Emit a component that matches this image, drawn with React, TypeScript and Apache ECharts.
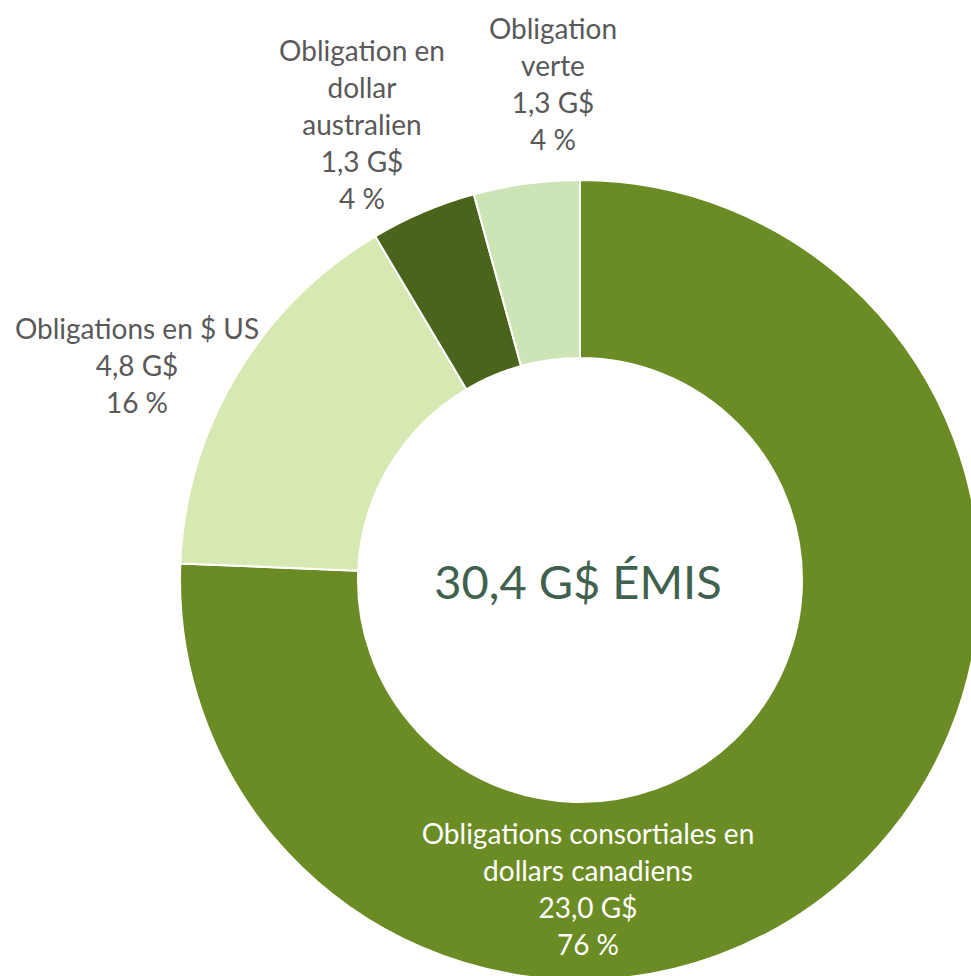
import React, { useEffect, useRef } from "react";
import * as echarts from "echarts";

const categories = [
  "Obligations consortiales en\ndollars canadiens",
  "Obligations en $ US",
  "Obligation en\ndollar\naustralien",
  "Obligation\nverte",
];
const valuesBn = [23.0, 4.8, 1.3, 1.3];
const percents = [76, 16, 4, 4];
const totalLabel = "30,4 G$ ÉMIS";

const colors = ["#6b8c24", "#d7e9b2", "#4b641b", "#cde4b6"];
const labelColors = ["#ffffff", "#595959", "#595959", "#595959"];
// label anchor positions (top-center of each label block)
const labelPos: [number, number][] = [
  [588, 814],
  [137, 309],
  [362, 31],
  [553, 9],
];

const FONT = "Lato, 'Open Sans', sans-serif";

export default function App() {
  const ref = useRef<HTMLDivElement>(null);
  useEffect(() => {
    if (!ref.current) return;
    const chart = echarts.init(ref.current, undefined, { renderer: "svg" });
    const fmt = (v: number) => v.toFixed(1).replace(".", ",") + " G$";
    chart.setOption({
      animation: false,
      backgroundColor: "#ffffff",
      series: [
        {
          type: "pie",
          center: [580, 580],
          radius: [222, 400],
          startAngle: 90,
          clockwise: true,
          avoidLabelOverlap: false,
          itemStyle: { borderColor: "#ffffff", borderWidth: 2 },
          label: {
            show: true,
            position: "inside",
            fontFamily: FONT,
            fontSize: 28,
            lineHeight: 37,
            align: "center",
            formatter: (p: any) =>
              `${categories[p.dataIndex]}\n${fmt(valuesBn[p.dataIndex])}\n${percents[p.dataIndex]} %`,
          },
          labelLine: { show: false },
          labelLayout: (p: any) => ({
            x: labelPos[p.dataIndex][0],
            y: labelPos[p.dataIndex][1],
            align: "center",
            verticalAlign: "top",
          }),
          data: valuesBn.map((v, i) => ({
            value: v,
            name: categories[i],
            itemStyle: { color: colors[i] },
            label: { color: labelColors[i] },
          })),
        },
      ],
      graphic: [
        {
          type: "text",
          x: 578,
          y: 581,
          style: {
            text: totalLabel,
            fontFamily: FONT,
            fontSize: 47,
            fill: "#41614f",
            textAlign: "center",
            textVerticalAlign: "middle",
          },
        },
      ],
    });
    return () => chart.dispose();
  }, []);
  return (
    <div
      ref={ref}
      style={{ position: "fixed", left: 0, top: 0, width: 971, height: 976 }}
    />
  );
}
